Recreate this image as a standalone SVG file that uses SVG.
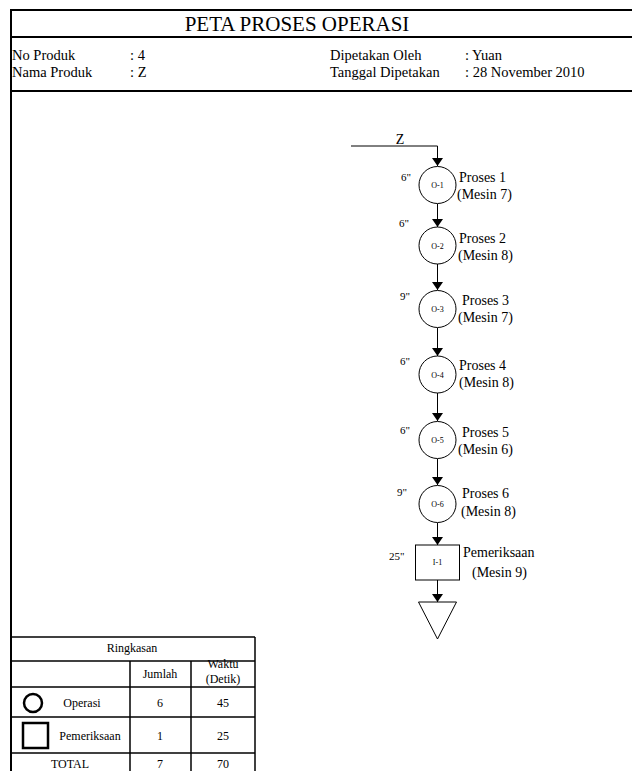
<svg xmlns="http://www.w3.org/2000/svg" width="632" height="771" viewBox="0 0 632 771">
<defs>
<marker id="ah" viewBox="0 0 8 11" refX="8" refY="5.5" markerWidth="8" markerHeight="11" markerUnits="userSpaceOnUse" orient="auto">
<path d="M0,0 L8,5.5 L0,11 Z" fill="#000"/>
</marker>
<style>
text{font-family:"Liberation Serif","Times New Roman",serif;fill:#000}
.frame{stroke:#000;stroke-width:2;fill:none}
.tl{stroke:#000;stroke-width:1.5;fill:none}
.node{fill:#fff;stroke:#000;stroke-width:1}
.nid{font-size:8px;text-anchor:middle}
.lbl{font-size:14px}
.tm{font-size:11px}
.info{font-size:14.5px}
.tb{font-size:12px;text-anchor:middle}
.con{stroke:#000;stroke-width:1;fill:none}
</style>
</defs>
<rect width="632" height="771" fill="#fff"/>
<g id="frame">
<line class="frame" x1="10" y1="10" x2="632" y2="10"/>
<line class="frame" x1="10" y1="37" x2="632" y2="37"/>
<line class="frame" x1="10" y1="91" x2="632" y2="91"/>
<line class="frame" x1="11" y1="9" x2="11" y2="771"/>
<text x="297" y="31" font-size="21" text-anchor="middle">PETA PROSES OPERASI</text>
<text class="info" x="12" y="60">No Produk</text>
<text class="info" x="130" y="60">: 4</text>
<text class="info" x="330" y="60">Dipetakan Oleh</text>
<text class="info" x="465" y="60">: Yuan</text>
<text class="info" x="12" y="77">Nama Produk</text>
<text class="info" x="130" y="77">: Z</text>
<text class="info" x="330" y="77">Tanggal Dipetakan</text>
<text class="info" x="465" y="77">: 28 November 2010</text>
</g>
<g id="connectors">
<path class="con" d="M351,146 H437.5 V166" marker-end="url(#ah)"/>
<line class="con" x1="437.5" y1="204" x2="437.5" y2="227" marker-end="url(#ah)"/>
<line class="con" x1="437.5" y1="264" x2="437.5" y2="290" marker-end="url(#ah)"/>
<line class="con" x1="437.5" y1="328" x2="437.5" y2="356" marker-end="url(#ah)"/>
<line class="con" x1="437.5" y1="393" x2="437.5" y2="421" marker-end="url(#ah)"/>
<line class="con" x1="437.5" y1="459" x2="437.5" y2="485" marker-end="url(#ah)"/>
<line class="con" x1="437.5" y1="523" x2="437.5" y2="545" marker-end="url(#ah)"/>
<line class="con" x1="437.5" y1="580" x2="437.5" y2="602" marker-end="url(#ah)"/>
<text x="400" y="144" font-size="14" text-anchor="middle">Z</text>
</g>
<g id="O-1">
<circle class="node" cx="437.5" cy="185" r="18.5"/>
<text class="nid" x="437.5" y="188">O-1</text>
<text class="tm" x="401" y="181">6"</text>
<text class="lbl" x="459" y="182">Proses 1</text>
<text class="lbl" x="457" y="199">(Mesin 7)</text>
</g>
<g id="O-2">
<circle class="node" cx="437.5" cy="245.5" r="18.5"/>
<text class="nid" x="437.5" y="248.5">O-2</text>
<text class="tm" x="399" y="227">6"</text>
<text class="lbl" x="459" y="243">Proses 2</text>
<text class="lbl" x="458" y="260">(Mesin 8)</text>
</g>
<g id="O-3">
<circle class="node" cx="437.5" cy="309" r="18.5"/>
<text class="nid" x="437.5" y="312">O-3</text>
<text class="tm" x="400" y="300">9"</text>
<text class="lbl" x="462" y="305">Proses 3</text>
<text class="lbl" x="458" y="322">(Mesin 7)</text>
</g>
<g id="O-4">
<circle class="node" cx="437.5" cy="374.5" r="18.5"/>
<text class="nid" x="437.5" y="377.5">O-4</text>
<text class="tm" x="400" y="365">6"</text>
<text class="lbl" x="459" y="370">Proses 4</text>
<text class="lbl" x="459" y="387">(Mesin 8)</text>
</g>
<g id="O-5">
<circle class="node" cx="437.5" cy="440" r="18.5"/>
<text class="nid" x="437.5" y="443">O-5</text>
<text class="tm" x="400" y="434">6"</text>
<text class="lbl" x="462" y="437">Proses 5</text>
<text class="lbl" x="458" y="454">(Mesin 6)</text>
</g>
<g id="O-6">
<circle class="node" cx="437.5" cy="504" r="18.5"/>
<text class="nid" x="437.5" y="507">O-6</text>
<text class="tm" x="397" y="496">9"</text>
<text class="lbl" x="462" y="498">Proses 6</text>
<text class="lbl" x="461" y="516">(Mesin 8)</text>
</g>
<g id="I-1">
<rect class="node" x="415.5" y="545" width="44" height="35"/>
<text class="nid" x="437.5" y="565">I-1</text>
<text class="tm" x="389" y="560">25"</text>
<text class="lbl" x="463" y="557">Pemeriksaan</text>
<text class="lbl" x="472" y="577">(Mesin 9)</text>
</g>
<g id="storage">
<path class="node" d="M418.5,602 H456.5 L437.5,639 Z"/>
</g>
<g id="summary">
<line class="tl" x1="11" y1="637" x2="255" y2="637"/>
<line class="tl" x1="11" y1="661" x2="255" y2="661"/>
<line class="tl" x1="11" y1="687" x2="255" y2="687"/>
<line class="tl" x1="11" y1="717" x2="255" y2="717"/>
<line class="tl" x1="11" y1="753" x2="255" y2="753"/>
<line class="tl" x1="255" y1="637" x2="255" y2="771"/>
<line class="tl" x1="130" y1="661" x2="130" y2="771"/>
<line class="tl" x1="191" y1="661" x2="191" y2="771"/>
<text class="tb" x="132" y="652">Ringkasan</text>
<text class="tb" x="160" y="678">Jumlah</text>
<text class="tb" x="223" y="668">Waktu</text>
<text class="tb" x="223" y="683">(Detik)</text>
<circle cx="33" cy="703" r="9" fill="none" stroke="#000" stroke-width="2.5"/>
<text class="tb" x="82" y="707">Operasi</text>
<text class="tb" x="160" y="707">6</text>
<text class="tb" x="223" y="707">45</text>
<rect x="23" y="723" width="25" height="25" fill="none" stroke="#000" stroke-width="2.5"/>
<text class="tb" x="90" y="740">Pemeriksaan</text>
<text class="tb" x="160" y="740">1</text>
<text class="tb" x="223" y="740">25</text>
<text class="tb" x="70" y="768">TOTAL</text>
<text class="tb" x="160" y="768">7</text>
<text class="tb" x="223" y="768">70</text>
</g>
</svg>
